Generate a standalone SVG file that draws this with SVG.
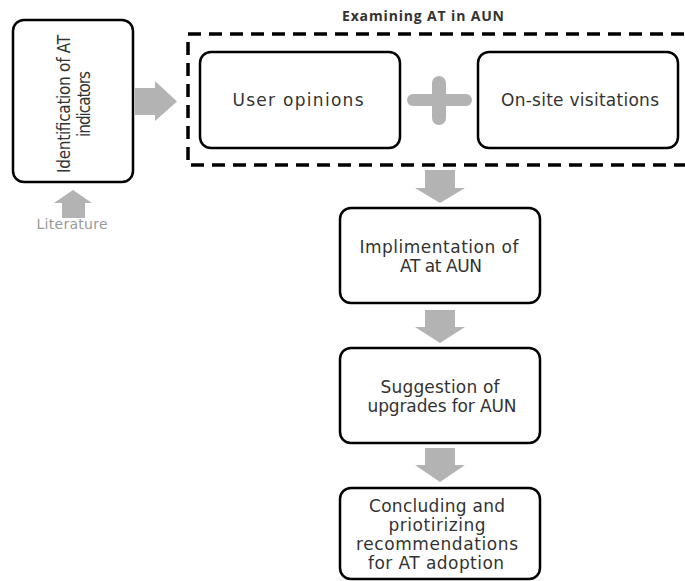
<svg xmlns="http://www.w3.org/2000/svg" width="685" height="581" viewBox="0 0 685 581">
<style>
.box{fill:#fff;stroke:#000;stroke-width:2.5}
.arr{fill:#b3b3b3}
.t{font-family:"DejaVu Sans",Verdana,sans-serif;font-size:17px;fill:#333;text-anchor:middle}
.tc{font-family:"DejaVu Sans Condensed","DejaVu Sans",sans-serif;font-stretch:condensed;font-size:17px;fill:#333;text-anchor:middle}
</style>
<rect width="685" height="581" fill="#fff"/>
<g id="connectors">
<polygon class="arr" points="135,88 155,88 155,81 177,101.5 155,121 155,115 135,115"/>
<polygon class="arr" points="62,218 62,203 54,203 73,190 92,203 85,203 85,218"/>
<polygon class="arr" points="425,170 455,170 455,188 465,188 440,203 415,188 425,188"/>
<polygon class="arr" points="425,310 455,310 455,327 465,327 440,343 415,327 425,327"/>
<polygon class="arr" points="425,448 455,448 455,465 465,465 440,482 415,465 425,465"/>
<g id="plus" fill="#b3b3b3">
<rect x="407" y="94" width="65" height="12" rx="6"/>
<rect x="432" y="76" width="14" height="49" rx="7"/>
</g>
</g>
<g id="literature">
<text x="72" y="229" font-family="DejaVu Sans,sans-serif" font-size="14" fill="#999" text-anchor="middle" textLength="71">Literature</text>
</g>
<g id="identification">
<rect class="box" x="13" y="20" width="120" height="162" rx="11" stroke-width="3"/>
<g transform="translate(70,104) rotate(-90)">
<text class="tc" x="0" y="0" textLength="138">Identification of AT</text>
<text class="tc" x="0" y="20" textLength="66">indicators</text>
</g>
</g>
<g id="examining">
<rect x="188" y="34" width="520" height="131" fill="none" stroke="#000" stroke-width="3.5" stroke-dasharray="13,8"/>
<text x="423" y="21" font-family="'Open Sans','DejaVu Sans',sans-serif" font-weight="bold" font-size="14" fill="#333" text-anchor="middle" textLength="162">Examining AT in AUN</text>
</g>
<g id="user-opinions">
<rect class="box" x="200" y="52" width="200" height="96" rx="11"/>
<text class="t" x="298" y="106" textLength="131">User opinions</text>
</g>
<g id="onsite">
<rect class="box" x="478" y="52" width="200" height="96" rx="11"/>
<text class="t" x="580" y="106" textLength="158">On-site visitations</text>
</g>
<g id="implementation">
<rect class="box" x="340" y="208" width="200" height="95" rx="11"/>
<text class="t" x="439" y="253" textLength="159">Implimentation of</text>
<text class="t" x="441" y="272" textLength="82">AT at AUN</text>
</g>
<g id="suggestion">
<rect class="box" x="340" y="348" width="200" height="95" rx="11"/>
<text class="t" x="440" y="393" textLength="119">Suggestion of</text>
<text class="t" x="442" y="412" textLength="149">upgrades for AUN</text>
</g>
<g id="concluding">
<rect class="box" x="340" y="488" width="200" height="91" rx="11"/>
<text class="t" x="437" y="512" textLength="136">Concluding and</text>
<text class="t" x="437" y="531" textLength="97">priotirizing</text>
<text class="t" x="437" y="550" textLength="162">recommendations</text>
<text class="t" x="436" y="569" textLength="136">for AT adoption</text>
</g>
</svg>
